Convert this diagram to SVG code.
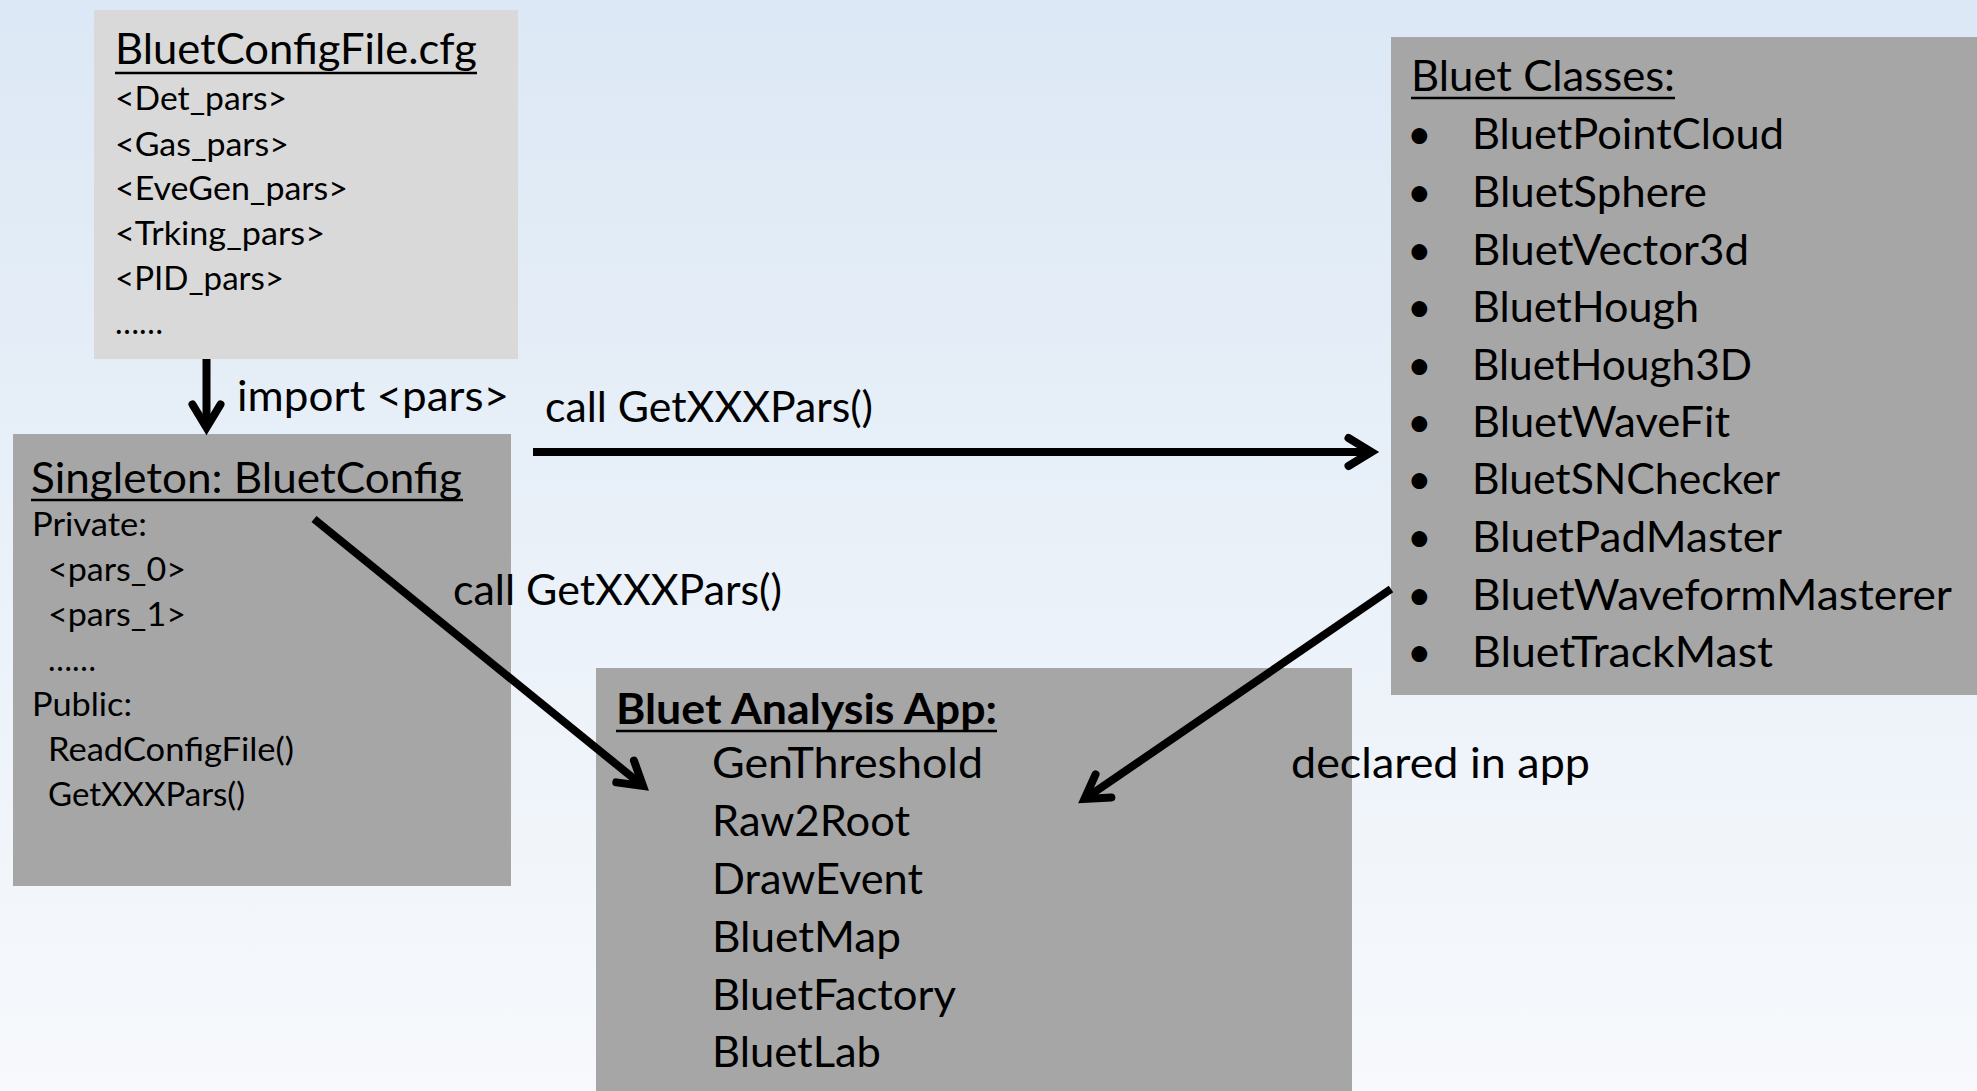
<svg xmlns="http://www.w3.org/2000/svg" width="1977" height="1091" viewBox="0 0 1977 1091">
<defs>
<linearGradient id="bg" x1="0" y1="0" x2="0" y2="1">
<stop offset="0" stop-color="#dce8f5"/>
<stop offset="1" stop-color="#f7f9fc"/>
</linearGradient>
<marker id="chev" markerUnits="userSpaceOnUse" viewBox="0 0 40 40" markerWidth="40" markerHeight="40" refX="34" refY="20" orient="auto" overflow="visible">
<path d="M11,6 L34,20 L11,34" fill="none" stroke="#000" stroke-width="8" stroke-linejoin="miter" stroke-linecap="round"/>
</marker>
<style>
.t{font-family:Lato,"Liberation Sans",sans-serif;fill:#000}
.L{font-size:42.5px}
.S{font-size:33.5px}
.B{font-weight:bold}
.ul{stroke:#000;stroke-width:2.5}
.light{fill:#d9d9d9}
.dark{fill:#a6a6a6}
.edge{stroke:#000;stroke-width:8;fill:none;marker-end:url(#chev)}
</style>
</defs>
<rect x="0" y="0" width="1977" height="1091" fill="url(#bg)"/>

<g id="cfgfile">
<rect class="light" x="94" y="10" width="424" height="349"/>
<text class="t L" x="115" y="64" textLength="362" lengthAdjust="spacingAndGlyphs">BluetConfigFile.cfg</text>
<line class="ul" x1="115" y1="73" x2="477" y2="73"/>
<text class="t S" x="115" y="110" textLength="172" lengthAdjust="spacingAndGlyphs">&lt;Det_pars&gt;</text>
<text class="t S" x="115" y="156" textLength="174" lengthAdjust="spacingAndGlyphs">&lt;Gas_pars&gt;</text>
<text class="t S" x="115" y="200" textLength="233" lengthAdjust="spacingAndGlyphs">&lt;EveGen_pars&gt;</text>
<text class="t S" x="115" y="245" textLength="210" lengthAdjust="spacingAndGlyphs">&lt;Trking_pars&gt;</text>
<text class="t S" x="115" y="290" textLength="169" lengthAdjust="spacingAndGlyphs">&lt;PID_pars&gt;</text>
<text class="t S" x="115" y="334" textLength="48" lengthAdjust="spacingAndGlyphs">……</text>
</g>

<g id="singleton">
<rect class="dark" x="13" y="434" width="498" height="452"/>
<text class="t L" x="31" y="493" textLength="431" lengthAdjust="spacingAndGlyphs">Singleton: BluetConfig</text>
<line class="ul" x1="31" y1="500" x2="463" y2="500"/>
<text class="t S" x="32" y="536" textLength="115" lengthAdjust="spacingAndGlyphs">Private:</text>
<text class="t S" x="48" y="581" textLength="138" lengthAdjust="spacingAndGlyphs">&lt;pars_0&gt;</text>
<text class="t S" x="48" y="626" textLength="138" lengthAdjust="spacingAndGlyphs">&lt;pars_1&gt;</text>
<text class="t S" x="48" y="671" textLength="48" lengthAdjust="spacingAndGlyphs">……</text>
<text class="t S" x="32" y="716" textLength="100" lengthAdjust="spacingAndGlyphs">Public:</text>
<text class="t S" x="48" y="761" textLength="246" lengthAdjust="spacingAndGlyphs">ReadConfigFile()</text>
<text class="t S" x="48" y="806" textLength="197" lengthAdjust="spacingAndGlyphs">GetXXXPars()</text>
</g>

<g id="classes">
<rect class="dark" x="1391" y="37" width="586" height="658"/>
<text class="t L" x="1411" y="91" textLength="264" lengthAdjust="spacingAndGlyphs">Bluet Classes:</text>
<line class="ul" x1="1411" y1="98" x2="1675" y2="98"/>
<g class="t L">
<text x="1407" y="149">•</text>
<text x="1407" y="207">•</text>
<text x="1407" y="265">•</text>
<text x="1407" y="322">•</text>
<text x="1407" y="380">•</text>
<text x="1407" y="437">•</text>
<text x="1407" y="494">•</text>
<text x="1407" y="552">•</text>
<text x="1407" y="610">•</text>
<text x="1407" y="667">•</text>
</g>
<text class="t L" x="1472" y="149" textLength="312" lengthAdjust="spacingAndGlyphs">BluetPointCloud</text>
<text class="t L" x="1472" y="207" textLength="235" lengthAdjust="spacingAndGlyphs">BluetSphere</text>
<text class="t L" x="1472" y="265" textLength="277" lengthAdjust="spacingAndGlyphs">BluetVector3d</text>
<text class="t L" x="1472" y="322" textLength="227" lengthAdjust="spacingAndGlyphs">BluetHough</text>
<text class="t L" x="1472" y="380" textLength="280" lengthAdjust="spacingAndGlyphs">BluetHough3D</text>
<text class="t L" x="1472" y="437" textLength="258" lengthAdjust="spacingAndGlyphs">BluetWaveFit</text>
<text class="t L" x="1472" y="494" textLength="308" lengthAdjust="spacingAndGlyphs">BluetSNChecker</text>
<text class="t L" x="1472" y="552" textLength="310" lengthAdjust="spacingAndGlyphs">BluetPadMaster</text>
<text class="t L" x="1472" y="610" textLength="480" lengthAdjust="spacingAndGlyphs">BluetWaveformMasterer</text>
<text class="t L" x="1472" y="667" textLength="301" lengthAdjust="spacingAndGlyphs">BluetTrackMast</text>
</g>

<g id="app">
<rect class="dark" x="596" y="668" width="756" height="423"/>
<text class="t L B" x="616" y="724" textLength="381" lengthAdjust="spacingAndGlyphs">Bluet Analysis App:</text>
<line class="ul" x1="616" y1="731" x2="997" y2="731" stroke-width="3.5"/>
<text class="t L" x="712" y="778" textLength="271" lengthAdjust="spacingAndGlyphs">GenThreshold</text>
<text class="t L" x="712" y="836" textLength="198" lengthAdjust="spacingAndGlyphs">Raw2Root</text>
<text class="t L" x="712" y="894" textLength="211" lengthAdjust="spacingAndGlyphs">DrawEvent</text>
<text class="t L" x="712" y="952" textLength="189" lengthAdjust="spacingAndGlyphs">BluetMap</text>
<text class="t L" x="712" y="1010" textLength="244" lengthAdjust="spacingAndGlyphs">BluetFactory</text>
<text class="t L" x="712" y="1067" textLength="169" lengthAdjust="spacingAndGlyphs">BluetLab</text>
</g>

<g id="connectors">
<line class="edge" x1="206.5" y1="359" x2="206.5" y2="427.5"/>
<line class="edge" x1="533" y1="452" x2="1371.5" y2="452"/>
<line class="edge" x1="314" y1="519" x2="643" y2="786"/>
<line class="edge" x1="1391" y1="589" x2="1084.5" y2="799"/>
<text class="t L" x="237" y="411" textLength="272" lengthAdjust="spacingAndGlyphs">import &lt;pars&gt;</text>
<text class="t L" x="545" y="422" textLength="328" lengthAdjust="spacingAndGlyphs">call GetXXXPars()</text>
<text class="t L" x="453" y="605" textLength="329" lengthAdjust="spacingAndGlyphs">call GetXXXPars()</text>
<text class="t L" x="1291" y="778" textLength="299" lengthAdjust="spacingAndGlyphs">declared in app</text>
</g>
</svg>
